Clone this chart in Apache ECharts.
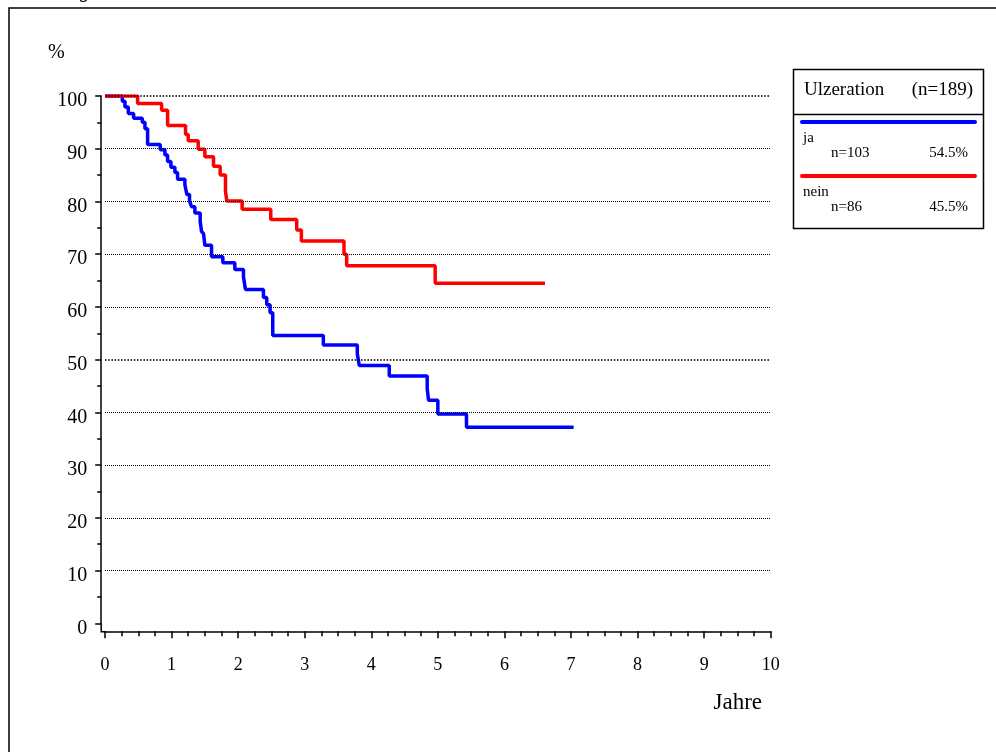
<!DOCTYPE html>
<html>
<head>
<meta charset="utf-8">
<script src="https://cdn.jsdelivr.net/npm/echarts@6/dist/echarts.min.js"></script>
<style>
html,body{margin:0;padding:0;background:#fff;}
#chart{width:996px;height:752px;}
</style>
</head>
<body>
<div id="chart"></div>
<script>
// Kaplan-Meier step points [Jahre, %]
const jaData = [
  [0, 100], [0.26, 99.0], [0.30, 97.9], [0.35, 96.7], [0.43, 95.8], [0.56, 95.0],
  [0.60, 93.8], [0.64, 90.8], [0.83, 89.8], [0.90, 88.8], [0.94, 87.6], [0.99, 86.5],
  [1.05, 85.5], [1.09, 84.2], [1.20, 83.2], [1.23, 81.3], [1.27, 80.1], [1.30, 79.0],
  [1.35, 77.8], [1.43, 76.2], [1.45, 74.3], [1.48, 73.9], [1.50, 71.7], [1.60, 69.5],
  [1.77, 68.4], [1.95, 67.1], [2.08, 65.7], [2.11, 63.3], [2.38, 61.8], [2.43, 60.4],
  [2.48, 58.9], [2.52, 54.6], [3.28, 52.8], [3.79, 51.1], [3.82, 48.9], [4.27, 46.9],
  [4.84, 44.5], [4.86, 42.3], [5.00, 39.7], [5.43, 37.2], [7.04, 37.2]
];
const neinData = [
  [0, 100], [0.49, 98.6], [0.85, 97.3], [0.94, 94.4], [1.21, 92.7], [1.25, 91.5],
  [1.40, 89.9], [1.50, 88.5], [1.63, 86.7], [1.73, 85.0], [1.81, 81.9], [1.83, 80.1],
  [2.06, 78.5], [2.49, 76.6], [2.88, 74.6], [2.95, 72.5], [3.59, 70.0], [3.63, 67.8],
  [4.96, 64.5], [6.61, 64.5]
];
const gridValues = [10, 20, 30, 40, 50, 60, 70, 80, 90, 100];
const legendTitle = 'Ulzeration';
const legendTotal = '(n=189)';
const groupNames = ['ja', 'nein'];
const groupN = ['n=103', 'n=86'];
const groupPct = ['54.5%', '45.5%'];
const groupColors = ['#0000ff', '#ff0000'];

const FONT = '"Liberation Serif", "Times New Roman", serif';
const chart = echarts.init(document.getElementById('chart'), null, {renderer: 'canvas'});

const legendGraphics = [
  {type: 'rect', shape: {x: 793.5, y: 69.5, width: 190, height: 159}, style: {fill: '#fff', stroke: '#000', lineWidth: 1.5}, z: 10},
  {type: 'line', shape: {x1: 793.5, y1: 114.5, x2: 983.5, y2: 114.5}, style: {stroke: '#000', lineWidth: 1.5}, z: 11},
  {type: 'text', x: 804, y: 90, style: {text: legendTitle, font: '19px ' + FONT, fill: '#000', verticalAlign: 'middle', align: 'left'}, z: 11},
  {type: 'text', x: 973, y: 90, style: {text: legendTotal, font: '19px ' + FONT, fill: '#000', verticalAlign: 'middle', align: 'right'}, z: 11}
];
const rowY = [122, 176];
for (let i = 0; i < 2; i++) {
  const y = rowY[i];
  legendGraphics.push(
    {type: 'line', shape: {x1: 802, y1: y, x2: 975, y2: y}, style: {stroke: groupColors[i], lineWidth: 4, lineCap: 'round'}, z: 11},
    {type: 'text', x: 803, y: y + 16, style: {text: groupNames[i], font: '15px ' + FONT, fill: '#000', verticalAlign: 'middle', align: 'left'}, z: 11},
    {type: 'text', x: 831, y: y + 31, style: {text: groupN[i], font: '15px ' + FONT, fill: '#000', verticalAlign: 'middle', align: 'left'}, z: 11},
    {type: 'text', x: 968, y: y + 31, style: {text: groupPct[i], font: '15px ' + FONT, fill: '#000', verticalAlign: 'middle', align: 'right'}, z: 11}
  );
}

const option = {
  animation: false,
  backgroundColor: '#fff',
  grid: {left: 105, right: 225.3, top: 96, bottom: 128.7, containLabel: false},
  xAxis: {
    type: 'value', min: 0, max: 10, interval: 1, offset: 8,
    axisLine: {show: true, onZero: false, lineStyle: {color: '#000', width: 1.5}},
    axisTick: {show: true, length: 7, inside: false, lineStyle: {color: '#000', width: 1.5}},
    minorTick: {show: true, splitNumber: 4, length: 5, lineStyle: {color: '#000', width: 1.5}},
    axisLabel: {color: '#000', fontFamily: FONT, fontSize: 18, margin: 25},
    splitLine: {show: false}
  },
  yAxis: {
    type: 'value', min: 0, max: 100, interval: 10, offset: 3.8,
    axisLine: {show: true, onZero: false, lineStyle: {color: '#000', width: 1.5}},
    axisTick: {show: true, length: 6, inside: false, lineStyle: {color: '#000', width: 1.5}},
    minorTick: {show: true, splitNumber: 2, length: 4, lineStyle: {color: '#000', width: 1.5}},
    axisLabel: {color: '#000', fontFamily: FONT, fontSize: 20, margin: 14, verticalAlign: 'top', lineHeight: 10},
    splitLine: {show: false}
  },
  graphic: [
    {type: 'polyline', shape: {points: [[9, 752], [9, 8], [996, 8]]}, style: {stroke: '#000', fill: null, lineWidth: 1.5}},
    // axis corner joint (decorative)
    {type: 'polyline', shape: {points: [[101.2, 623], [101.2, 631.7], [106, 631.7]]}, style: {stroke: '#000', fill: null, lineWidth: 1.5}},
    {type: 'text', x: 80, y: -18, style: {text: 'g', font: 'italic 20px ' + FONT, fill: '#000', verticalAlign: 'top'}},
    {type: 'text', x: 48, y: 53, style: {text: '%', font: '20px ' + FONT, fill: '#000', verticalAlign: 'middle'}},
    {type: 'text', x: 762, y: 703, style: {text: 'Jahre', font: '23px ' + FONT, fill: '#000', verticalAlign: 'middle', align: 'right'}}
  ].concat(legendGraphics),
  series: [
    {
      type: 'line', data: [], z: 1, silent: true,
      markLine: {
        silent: true, symbol: ['none', 'none'], label: {show: false},
        lineStyle: {color: '#000', type: 'dotted', width: 1},
        data: gridValues.map(v => ({yAxis: v, lineStyle: {width: (v === 50 || v === 100) ? 1.6 : 1}}))
      }
    },
    {
      name: groupNames[0], type: 'line', step: 'end', data: jaData, showSymbol: false, symbol: 'none', z: 3,
      lineStyle: {color: groupColors[0], width: 3.5}
    },
    {
      name: groupNames[1], type: 'line', step: 'end', data: neinData, showSymbol: false, symbol: 'none', z: 4,
      lineStyle: {color: groupColors[1], width: 3.5}
    }
  ]
};
chart.setOption(option);
</script>
</body>
</html>
